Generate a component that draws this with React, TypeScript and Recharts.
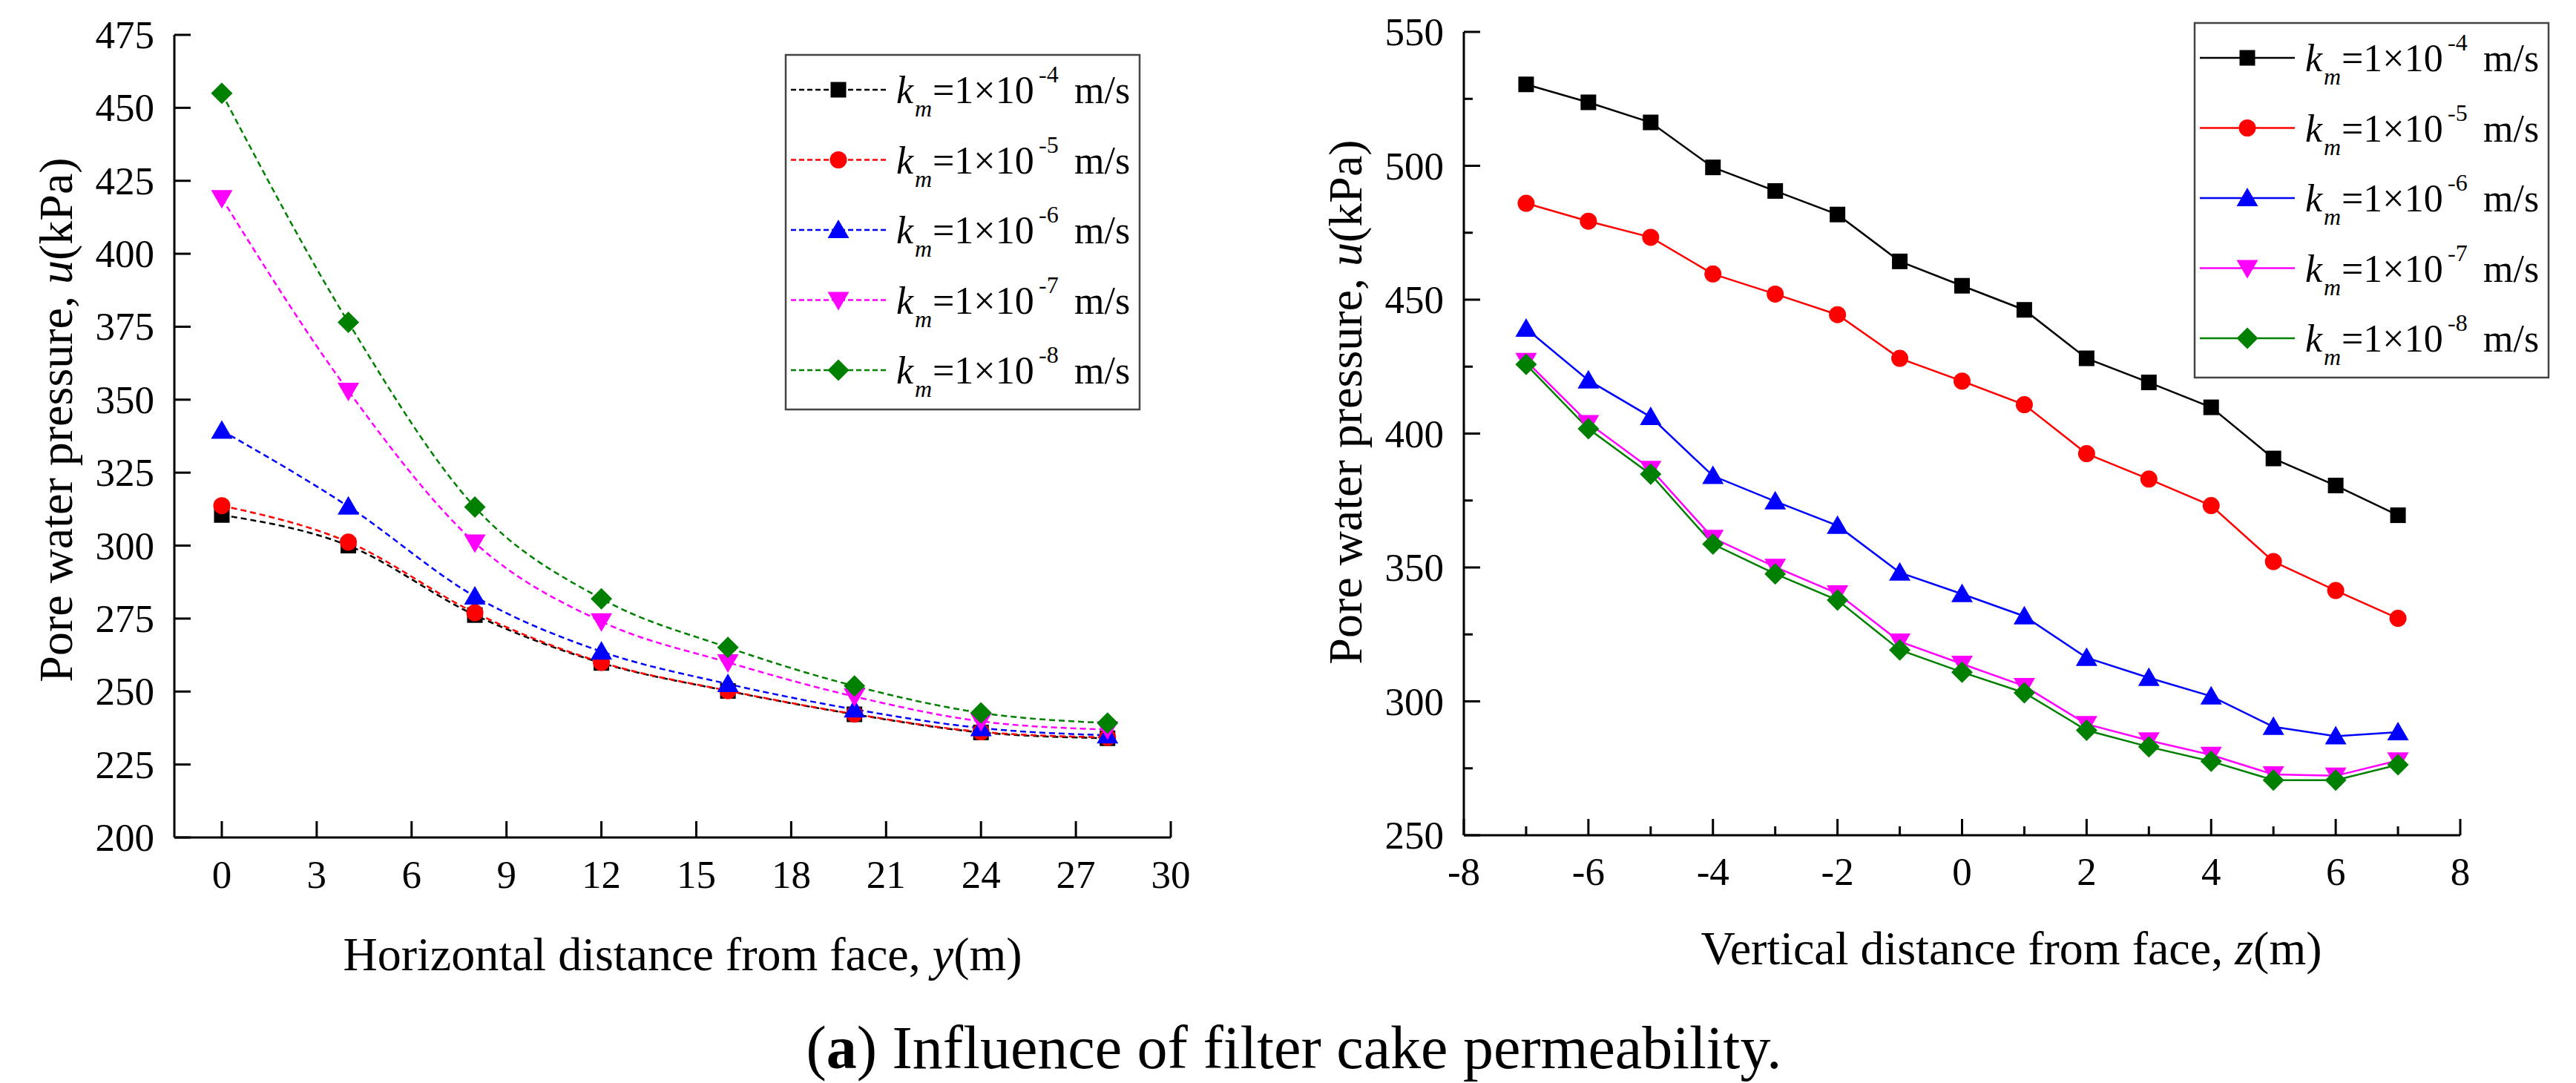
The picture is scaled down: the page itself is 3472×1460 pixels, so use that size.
import React from 'react';
import { LineChart, Line, XAxis, YAxis } from 'recharts';

const FONT = '"Liberation Serif", "Times New Roman", serif';

// left panel: horizontal distance from face, y (m)
const horizDist = [0, 4, 8, 12, 16, 20, 24, 28];
const horizK4 = [310.5, 300, 276.2, 259.8, 250.2, 242.2, 236, 234];
const horizK5 = [313.7, 301.2, 277, 260, 250.3, 242.3, 236.2, 234.3];
const horizK6 = [339.4, 313.4, 282.6, 263.7, 252.6, 243.9, 237.5, 235];
const horizK7 = [419, 353, 301, 274, 260, 248.3, 239.8, 237];
const horizK8 = [455, 376.5, 313.2, 281.8, 265.1, 251.9, 242.7, 239.2];

// right panel: vertical distance from face, z (m)
const vertDist = [-7, -6, -5, -4, -3, -2, -1, 0, 1, 2, 3, 4, 5, 6, 7];
const vertK4 = [530.4, 523.7, 516.2, 499.4, 490.6, 481.8, 464.3, 455.2, 446.2, 428.1, 419.1, 409.8, 390.7, 380.6, 369.5];
const vertK5 = [486, 479.3, 473.3, 459.6, 452.1, 444.4, 428.1, 419.6, 410.8, 392.5, 383, 373.1, 352.2, 341.4, 331];
const vertK6 = [439.2, 419.9, 406.2, 384.2, 374.7, 365.6, 348.1, 340.1, 331.8, 316.3, 308.8, 301.9, 290.5, 287, 288.5];
const vertK7 = [427.1, 403.9, 386.8, 361, 350.2, 340.3, 322.3, 314, 305.7, 291.5, 285.4, 280, 272.7, 272.2, 277.9];
const vertK8 = [425.8, 401.8, 384.8, 358.7, 347.6, 337.8, 319.2, 310.9, 303.2, 289.2, 283, 277.6, 270.6, 270.6, 276.3];

const leftXTicks = [0, 3, 6, 9, 12, 15, 18, 21, 24, 27, 30];
const leftYTicks = [200, 225, 250, 275, 300, 325, 350, 375, 400, 425, 450, 475];
const rightXTicks = [-8, -7, -6, -5, -4, -3, -2, -1, 0, 1, 2, 3, 4, 5, 6, 7, 8];
const rightYTicks = [250, 275, 300, 325, 350, 375, 400, 425, 450, 475, 500, 525, 550];

const seriesKeys = ['k4', 'k5', 'k6', 'k7', 'k8'];
const seriesColors = ['#000000', '#ff0000', '#0000ff', '#ff00ff', '#008000'];
const seriesShapes = ['square', 'circle', 'triangle', 'triangleDown', 'diamond'];
const seriesExps = ['-4', '-5', '-6', '-7', '-8'];

const leftData = horizDist.map((x, i) => ({
  x,
  k4: horizK4[i],
  k5: horizK5[i],
  k6: horizK6[i],
  k7: horizK7[i],
  k8: horizK8[i],
}));

const rightData = vertDist.map((x, i) => ({
  x,
  k4: vertK4[i],
  k5: vertK5[i],
  k6: vertK6[i],
  k7: vertK7[i],
  k8: vertK8[i],
}));

const Marker = ({ shape, cx, cy, color }: any) => {
  switch (shape) {
    case 'square':
      return <rect x={cx - 10.5} y={cy - 10.5} width={21} height={21} fill={color} />;
    case 'circle':
      return <circle cx={cx} cy={cy} r={11.5} fill={color} />;
    case 'triangle':
      return <polygon points={`${cx},${cy - 14} ${cx - 14.5},${cy + 11} ${cx + 14.5},${cy + 11}`} fill={color} />;
    case 'triangleDown':
      return <polygon points={`${cx},${cy + 14} ${cx - 14.5},${cy - 11} ${cx + 14.5},${cy - 11}`} fill={color} />;
    default:
      return <polygon points={`${cx},${cy - 14.5} ${cx + 14.5},${cy} ${cx},${cy + 14.5} ${cx - 14.5},${cy}`} fill={color} />;
  }
};

const textStyle = { fontFamily: FONT };

// ticks point into the plot, labels outside
const makeXTick = (isMajor: (v: number) => boolean, labelDy: number) => (props: any) => {
  const { x, y, payload } = props;
  const major = isMajor(payload.value);
  return (
    <g>
      <line x1={x} x2={x} y1={y} y2={y - (major ? 22 : 12)} stroke="#000" strokeWidth={3} />
      {major && (
        <text x={x} y={y + labelDy} textAnchor="middle" style={textStyle} fontSize={53} fill="#000">
          {String(payload.value)}
        </text>
      )}
    </g>
  );
};

const makeYTick = (isMajor: (v: number) => boolean) => (props: any) => {
  const { x, y, payload } = props;
  const major = isMajor(payload.value);
  return (
    <g>
      <line x1={x} x2={x + (major ? 22 : 12)} y1={y} y2={y} stroke="#000" strokeWidth={3} />
      {major && (
        <text x={x - 27} y={y + 18} textAnchor="end" style={textStyle} fontSize={53} fill="#000">
          {String(payload.value)}
        </text>
      )}
    </g>
  );
};

const Legend = ({ x, y, dashed }: { x: number; y: number; dashed: boolean }) => {
  const first = y + 47;
  const step = 94.5;
  const tx = x + 149;
  return (
    <g>
      <rect x={x} y={y} width={477} height={478} fill="#fff" stroke="#444" strokeWidth={2.5} />
      {seriesKeys.map((k, i) => {
        const cy = first + i * step;
        return (
          <g key={k}>
            <line
              x1={x + 7}
              x2={x + 135}
              y1={cy}
              y2={cy}
              stroke={seriesColors[i]}
              strokeWidth={2.5}
              strokeDasharray={dashed ? '7 4' : undefined}
            />
            <Marker shape={seriesShapes[i]} cx={x + 71} cy={cy} color={seriesColors[i]} />
            <g style={textStyle} fill="#000">
              <text x={tx} y={cy + 18} fontSize={52} fontStyle="italic">k</text>
              <text x={tx + 25} y={cy + 36} fontSize={32} fontStyle="italic">m</text>
              <text x={tx + 49} y={cy + 18} fontSize={52}>=1×10</text>
              <text x={tx + 192} y={cy - 10} fontSize={32}>{seriesExps[i]}</text>
              <text x={tx + 240} y={cy + 18} fontSize={52}>m/s</text>
            </g>
          </g>
        );
      })}
    </g>
  );
};

const Panel = ({ data, margin, xDomain, xTicks, yDomain, yTicks, xMajor, yMajor, labelDy, dashed, curved }: any) => (
  <LineChart width={1736} height={1460} data={data} margin={margin}>
    <XAxis
      dataKey="x"
      type="number"
      domain={xDomain}
      ticks={xTicks}
      allowDataOverflow
      interval={0}
      height={100}
      tickSize={0}
      tickMargin={0}
      tickLine={false}
      axisLine={{ stroke: '#000', strokeWidth: 3 }}
      tick={makeXTick(xMajor, labelDy)}
    />
    <YAxis
      type="number"
      domain={yDomain}
      ticks={yTicks}
      allowDataOverflow
      interval={0}
      width={100}
      tickSize={0}
      tickMargin={0}
      tickLine={false}
      axisLine={{ stroke: '#000', strokeWidth: 3 }}
      tick={makeYTick(yMajor)}
    />
    {seriesKeys.map((k, i) => (
      <Line
        key={k}
        dataKey={k}
        type={curved ? 'monotone' : 'linear'}
        stroke={seriesColors[i]}
        strokeWidth={2.5}
        strokeDasharray={dashed ? '8 5' : undefined}
        isAnimationActive={false}
        activeDot={false}
        dot={(p: any) => (
          <Marker key={`${k}-${p.index}`} shape={seriesShapes[i]} cx={p.cx} cy={p.cy} color={seriesColors[i]} />
        )}
      />
    ))}
  </LineChart>
);

const App: React.FC = () => {
  return (
    <div style={{ position: 'absolute', left: 0, top: 0, width: 3472, height: 1460, background: '#fff' }}>
      <div style={{ position: 'absolute', left: 0, top: 0 }}>
        <Panel
          data={leftData}
          margin={{ top: 47, right: 158, bottom: 231, left: 135 }}
          xDomain={[-1.5, 30]}
          xTicks={leftXTicks}
          yDomain={[200, 475]}
          yTicks={leftYTicks}
          xMajor={() => true}
          yMajor={() => true}
          labelDy={68}
          dashed
          curved
        />
      </div>
      <div style={{ position: 'absolute', left: 1736, top: 0 }}>
        <Panel
          data={rightData}
          margin={{ top: 43, right: 156, bottom: 234, left: 137 }}
          xDomain={[-8, 8]}
          xTicks={rightXTicks}
          yDomain={[250, 550]}
          yTicks={rightYTicks}
          xMajor={(v: number) => v % 2 === 0}
          yMajor={(v: number) => v % 50 === 0}
          labelDy={67}
          dashed={false}
          curved={false}
        />
      </div>
      <svg
        width={3472}
        height={1460}
        style={{ position: 'absolute', left: 0, top: 0, pointerEvents: 'none' }}
      >
        <Legend x={1059} y={74} dashed />
        <Legend x={2958} y={31} dashed={false} />
        <g style={textStyle} fill="#000" fontSize={64}>
          <text transform="translate(97, 566) rotate(-90)" textAnchor="middle">
            Pore water pressure, <tspan fontStyle="italic">u</tspan>(kPa)
          </text>
          <text transform="translate(1835, 542) rotate(-90)" textAnchor="middle">
            Pore water pressure, <tspan fontStyle="italic">u</tspan>(kPa)
          </text>
          <text x={920} y={1308} textAnchor="middle">
            Horizontal distance from face, <tspan fontStyle="italic">y</tspan>(m)
          </text>
          <text x={2711} y={1300} textAnchor="middle">
            Vertical distance from face, <tspan fontStyle="italic">z</tspan>(m)
          </text>
          <text x={1744} y={1440} textAnchor="middle" fontSize={82}>
            (<tspan fontWeight="bold">a</tspan>) Influence of filter cake permeability.
          </text>
        </g>
      </svg>
    </div>
  );
};

export default App;
